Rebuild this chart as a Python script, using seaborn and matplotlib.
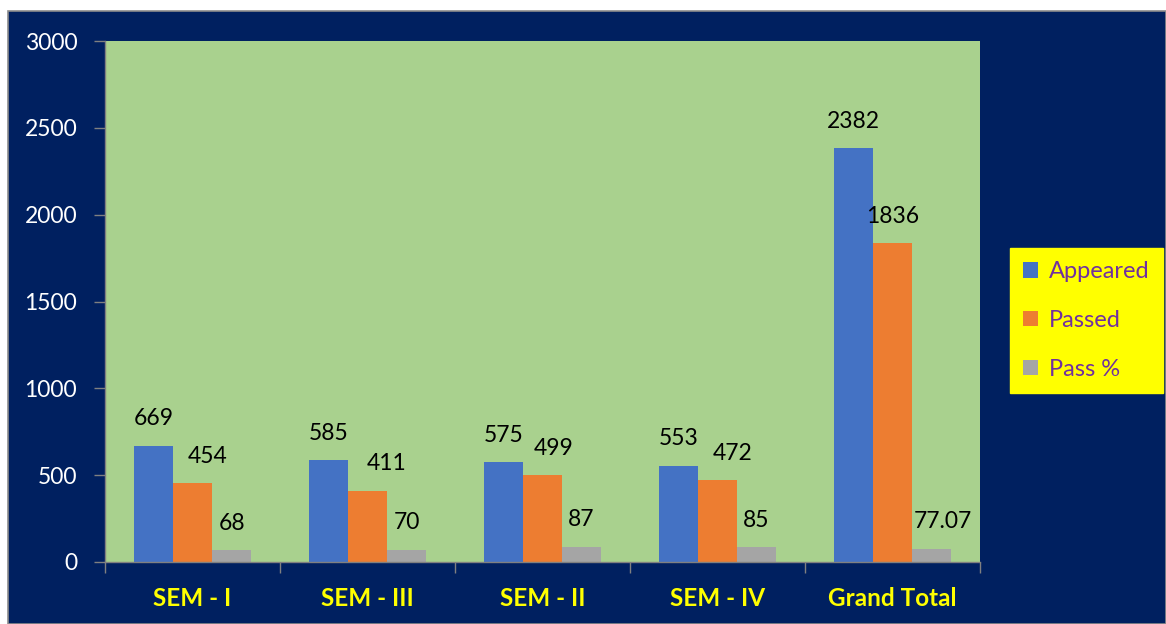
import matplotlib
matplotlib.use("Agg")
import matplotlib.pyplot as plt
from matplotlib.patches import Rectangle
import seaborn as sns
import pandas as pd

categories = ["SEM - I", "SEM - III", "SEM - II", "SEM - IV", "Grand Total"]
series_names = ["Appeared", "Passed", "Pass %"]
appeared = [669, 585, 575, 553, 2382]
passed = [454, 411, 499, 472, 1836]
pass_pct = [68, 70, 87, 85, 77.07]
label_text = [
    ["669", "585", "575", "553", "2382"],
    ["454", "411", "499", "472", "1836"],
    ["68", "70", "87", "85", "77.07"],
]
y_ticks = [0, 500, 1000, 1500, 2000, 2500, 3000]

# horizontal label nudges (pixels), like Excel's placement
label_nudge = [
    [0, 0, 0, 0, 0],
    [15, 19, 11, 15, 0],
    [0, 0, 0, 0, 11],
]

colors = ["#4472C4", "#ED7D31", "#A5A5A5"]
NAVY = "#002060"
GREEN = "#A9D18E"
AXIS_GRAY = "#808080"

df = pd.DataFrame({
    "cat": categories * 3,
    "series": [series_names[0]] * 5 + [series_names[1]] * 5 + [series_names[2]] * 5,
    "value": appeared + passed + pass_pct,
})

sns.set_style("white")
plt.rcParams["font.family"] = ["Lato", "DejaVu Sans"]

W, H = 1166, 624
fig = plt.figure(figsize=(W / 100, H / 100), dpi=100)
fig.patch.set_facecolor("white")
bg = Rectangle((8 / W, 0), 1 - 8 / W, 1 - 11 / H, transform=fig.transFigure,
               facecolor=NAVY, edgecolor="#8c8c8c", linewidth=1.2, zorder=-10)
fig.add_artist(bg)

ax = fig.add_axes([105 / W, 62 / H, 875 / W, 521 / H])
ax.set_zorder(1)
ax.set_facecolor(GREEN)

sns.barplot(data=df, x="cat", y="value", hue="series", palette=colors, width=0.67,
            ax=ax, legend=False, saturation=1, edgecolor="none", linewidth=0)

ax.set_ylim(0, 3000)
ax.set_xlim(-0.5, len(categories) - 0.5)
ax.set_yticks(y_ticks)
ax.set_yticklabels([str(t) for t in y_ticks], color="white", fontsize=16.5)
ax.tick_params(axis="y", length=8, width=1, color=AXIS_GRAY, pad=12, direction="out", left=True)
ax.set_xticks(range(len(categories)))
ax.set_xticklabels(categories, color="#FFFF00", fontsize=17.5, fontweight="bold")
ax.tick_params(axis="x", length=0, pad=18)
ax.set_xticks([i - 0.5 for i in range(len(categories) + 1)], minor=True)
ax.tick_params(axis="x", which="minor", length=8, width=1, color=AXIS_GRAY, direction="out", bottom=True)
ax.set_xlabel("")
ax.set_ylabel("")

for s in ["top", "right"]:
    ax.spines[s].set_visible(False)
for s in ["left", "bottom"]:
    ax.spines[s].set_visible(True)
    ax.spines[s].set_color(AXIS_GRAY)
    ax.spines[s].set_linewidth(1)

for si, cont in enumerate(ax.containers):
    for ci, bar in enumerate(cont):
        x = bar.get_x() + bar.get_width() / 2
        y = bar.get_height()
        ax.annotate(label_text[si][ci], (x, y), xytext=(label_nudge[si][ci], 27),
                    textcoords="offset pixels", ha="center", va="center",
                    fontsize=16.5, color="black")

handles = [Rectangle((0, 0), 1, 1, facecolor=c, edgecolor="none") for c in colors]
leg = fig.legend(handles, series_names, loc="upper left",
                 bbox_to_anchor=(1010 / W, 1 - 248 / H), borderaxespad=0,
                 frameon=True, fancybox=False, facecolor="#FFFF00", edgecolor="#FFFF00",
                 framealpha=1, fontsize=17, handlelength=0.65, handleheight=0.65,
                 handletextpad=0.45, labelspacing=1.18, borderpad=0.55)
for t in leg.get_texts():
    t.set_color("#7030A0")

fig.savefig("out.png", dpi=100, facecolor=fig.get_facecolor())
